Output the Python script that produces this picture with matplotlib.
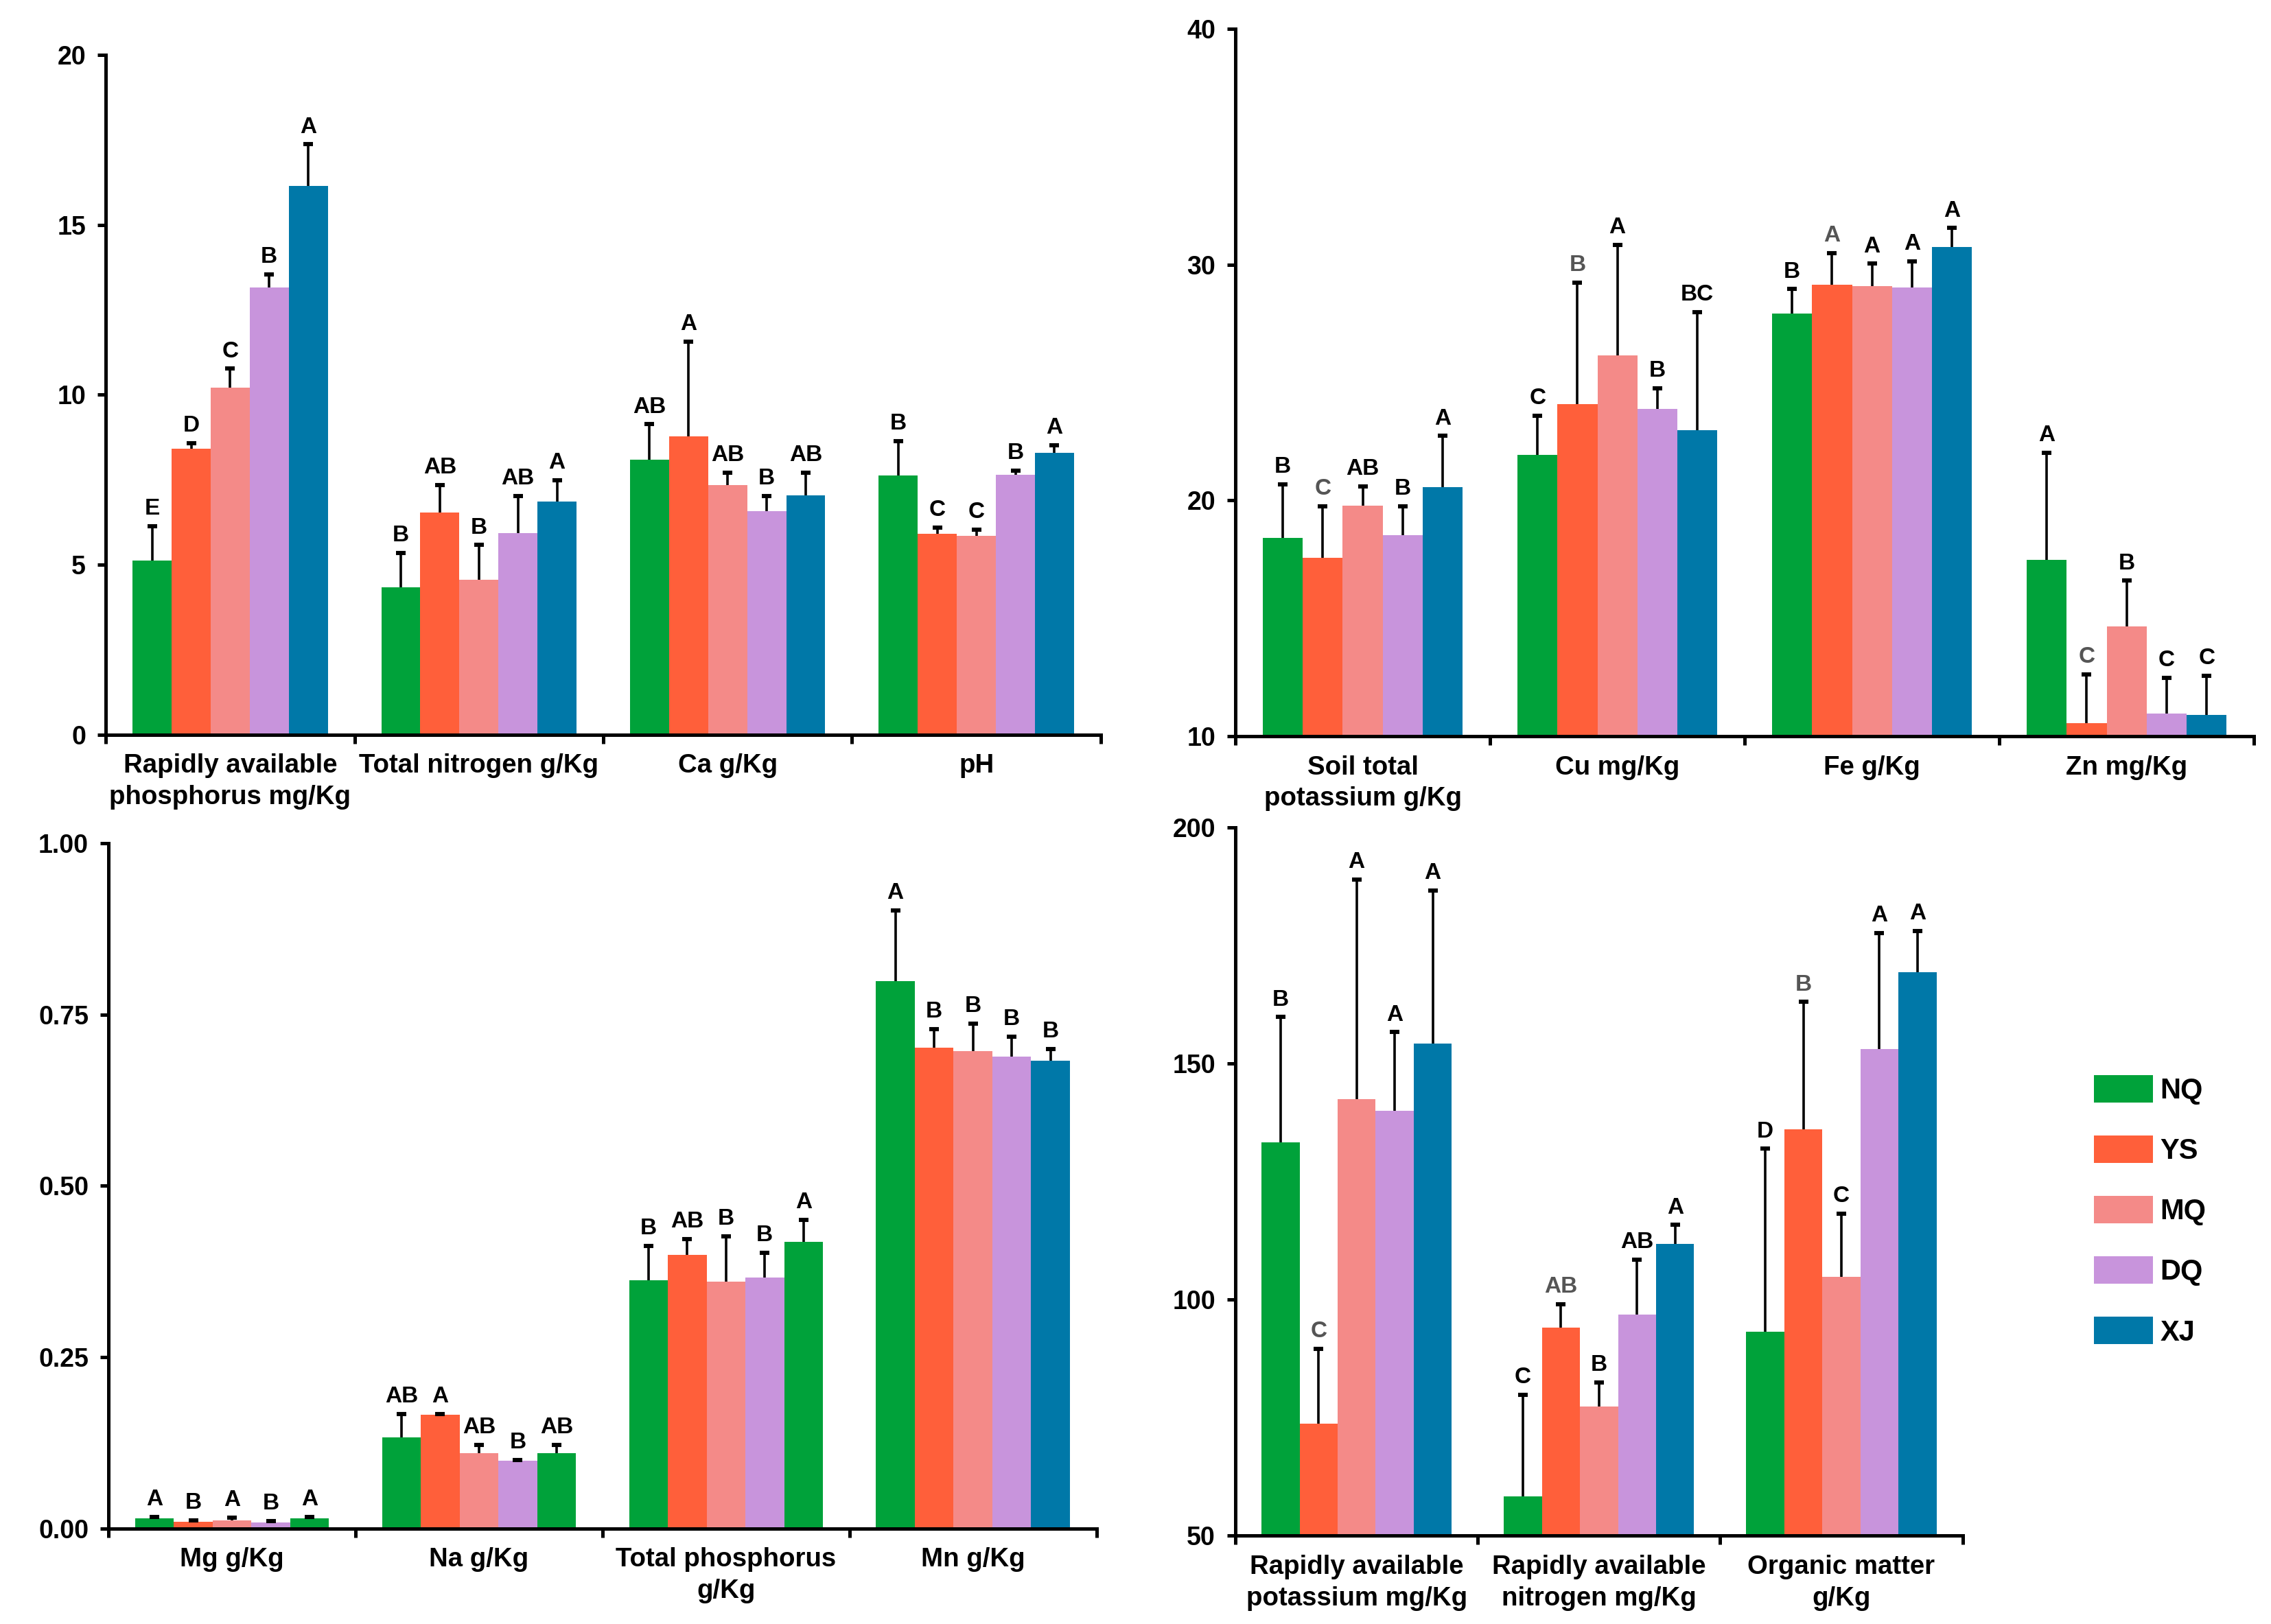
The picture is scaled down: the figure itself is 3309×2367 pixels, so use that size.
import numpy as np
import matplotlib
matplotlib.use('Agg')
from matplotlib import pyplot as plt
from matplotlib import rc
from matplotlib.patches import Patch

rc('font', family=['Liberation Sans', 'DejaVu Sans'], weight='bold')
rc('axes', linewidth=1.8)

series = ['NQ', 'YS', 'MQ', 'DQ', 'XJ']
colors = {'NQ': '#00A23A', 'YS': '#FF5F3A', 'MQ': '#F48A88',
          'DQ': '#C894DC', 'XJ': '#0078A8'}

# top left
a_cats = ['Rapidly available\nphosphorus mg/Kg', 'Total nitrogen g/Kg', 'Ca g/Kg', 'pH']
a_mean = [[5.12, 8.41, 10.22, 13.15, 16.15],
          [4.33, 6.54, 4.56, 5.93, 6.85],
          [8.10, 8.78, 7.34, 6.57, 7.03],
          [7.62, 5.90, 5.84, 7.65, 8.30]]
a_sd = [[1.02, 0.17, 0.55, 0.39, 1.22],
        [1.02, 0.80, 1.02, 1.09, 0.63],
        [1.03, 2.78, 0.37, 0.45, 0.68],
        [1.02, 0.20, 0.19, 0.12, 0.22]]
a_let = [['E', 'D', 'C', 'B', 'A'], ['B', 'AB', 'B', 'AB', 'A'],
         ['AB', 'A', 'AB', 'B', 'AB'], ['B', 'C', 'C', 'B', 'A']]
a_ticks = [0, 5, 10, 15, 20]

# top right
b_cats = ['Soil total\npotassium g/Kg', 'Cu mg/Kg', 'Fe g/Kg', 'Zn mg/Kg']
b_mean = [[18.40, 17.57, 19.78, 18.51, 20.57],
          [21.93, 24.07, 26.15, 23.89, 22.98],
          [27.91, 29.16, 29.10, 29.03, 30.75],
          [17.46, 10.54, 14.65, 10.96, 10.89]]
b_sd = [[2.28, 2.17, 0.81, 1.23, 2.16],
        [1.67, 5.16, 4.69, 0.87, 5.00],
        [1.05, 1.32, 0.94, 1.10, 0.80],
        [4.56, 2.07, 1.94, 1.52, 1.66]]
b_let = [['B', 'C', 'AB', 'B', 'A'], ['C', 'B', 'A', 'B', 'BC'],
         ['B', 'A', 'A', 'A', 'A'], ['A', 'C', 'B', 'C', 'C']]
b_ticks = [10, 20, 30, 40]

# bottom left
c_cats = ['Mg g/Kg', 'Na g/Kg', 'Total phosphorus\ng/Kg', 'Mn g/Kg']
c_mean = [[0.0144, 0.0091, 0.0121, 0.0083, 0.0144],
          [0.133, 0.166, 0.110, 0.099, 0.110],
          [0.362, 0.399, 0.360, 0.366, 0.418],
          [0.799, 0.702, 0.697, 0.689, 0.683]]
c_sd = [[0.0023, 0.0023, 0.0038, 0.0023, 0.0023],
        [0.034, 0.001, 0.012, 0.001, 0.012],
        [0.050, 0.023, 0.066, 0.036, 0.032],
        [0.103, 0.027, 0.040, 0.029, 0.017]]
c_let = [['A', 'B', 'A', 'B', 'A'], ['AB', 'A', 'AB', 'B', 'AB'],
         ['B', 'AB', 'B', 'B', 'A'], ['A', 'B', 'B', 'B', 'B']]
c_ticks = [0.0, 0.25, 0.5, 0.75, 1.0]
# in the original, the last bar of the first three groups is drawn green
c_last = ['NQ', 'NQ', 'NQ', 'XJ']

# bottom right
d_cats = ['Rapidly available\npotassium mg/Kg', 'Rapidly available\nnitrogen mg/Kg',
          'Organic matter\ng/Kg']
d_mean = [[133.3, 73.7, 142.4, 139.9, 154.2],
          [58.3, 94.0, 77.4, 96.8, 111.8],
          [93.2, 136.1, 104.8, 153.1, 169.3]]
d_sd = [[26.5, 15.9, 46.5, 16.7, 32.4],
        [21.5, 5.0, 5.0, 11.7, 4.0],
        [38.7, 26.9, 13.4, 24.5, 8.7]]
d_let = [['B', 'C', 'A', 'A', 'A'], ['C', 'AB', 'B', 'AB', 'A'],
         ['D', 'B', 'C', 'A', 'A']]
d_ticks = [50, 100, 150, 200]

W = 0.157


def panel(ax, cats, mean, sd, let, ticks, fmt='{:g}', grey_ys=False, last=None):
    mean = np.array(mean)
    sd = np.array(sd)
    n = len(cats)
    xs = np.arange(n)
    for i, s in enumerate(series):
        x = xs + (i - 2) * W
        cols = [colors[s]] * n
        if last is not None and i == 4:
            cols = [colors[k] for k in last]
        bc = ax.bar(x, mean[:, i], W, color=cols, zorder=2,
                    yerr=[np.zeros(n), sd[:, i]],
                    error_kw=dict(ecolor='black', elinewidth=1.3, capsize=2.4,
                                  capthick=2.2, zorder=3))
        # only the upper cap, like the original
        bc.errorbar.lines[1][0].set_visible(False)
        for j in range(n):
            c = '#555555' if (grey_ys and i == 1) else 'black'
            ax.annotate(let[j][i], (x[j], mean[j, i] + sd[j, i]), xytext=(0, 3.5),
                        textcoords='offset points', ha='center', va='bottom',
                        fontsize=12, color=c, fontweight='bold')
    ax.set_xlim(-0.5, n - 0.5)
    ax.set_ylim(ticks[0], ticks[-1])
    ax.set_yticks(ticks)
    ax.set_yticklabels([fmt.format(t) for t in ticks])
    ax.set_xticks(xs)
    ax.set_xticklabels(cats, fontsize=13.8, linespacing=1.35)
    ax.set_xticks(np.arange(n + 1) - 0.5, minor=True)
    ax.tick_params(axis='x', which='major', length=0, pad=10)
    ax.tick_params(axis='x', which='minor', length=4.5, width=1.8, direction='out')
    ax.tick_params(axis='y', length=4.5, width=1.8, direction='out', labelsize=13.5, pad=6)
    for sp in ['top', 'right']:
        ax.spines[sp].set_visible(False)


fig = plt.figure(figsize=(16.545, 11.835), dpi=200)
ax1 = fig.add_axes([0.0466, 0.5477, 0.4381, 0.4184])
ax2 = fig.add_axes([0.5440, 0.5468, 0.4485, 0.4354])
ax3 = fig.add_axes([0.0478, 0.0589, 0.4350, 0.4219])
ax4 = fig.add_axes([0.5440, 0.0544, 0.3202, 0.4362])

panel(ax1, a_cats, a_mean, a_sd, a_let, a_ticks)
panel(ax2, b_cats, b_mean, b_sd, b_let, b_ticks, grey_ys=True)
panel(ax3, c_cats, c_mean, c_sd, c_let, c_ticks, fmt='{:.2f}', last=c_last)
panel(ax4, d_cats, d_mean, d_sd, d_let, d_ticks, grey_ys=True)

handles = [Patch(facecolor=colors[s], edgecolor='none') for s in series]
fig.legend(handles, series, loc='center left', bbox_to_anchor=(0.922, 0.2545),
           frameon=False, fontsize=15, handlelength=2.07, handleheight=1.1,
           labelspacing=1.08, handletextpad=0.25, borderpad=0, borderaxespad=0)

fig.savefig('out.png', dpi=200)
